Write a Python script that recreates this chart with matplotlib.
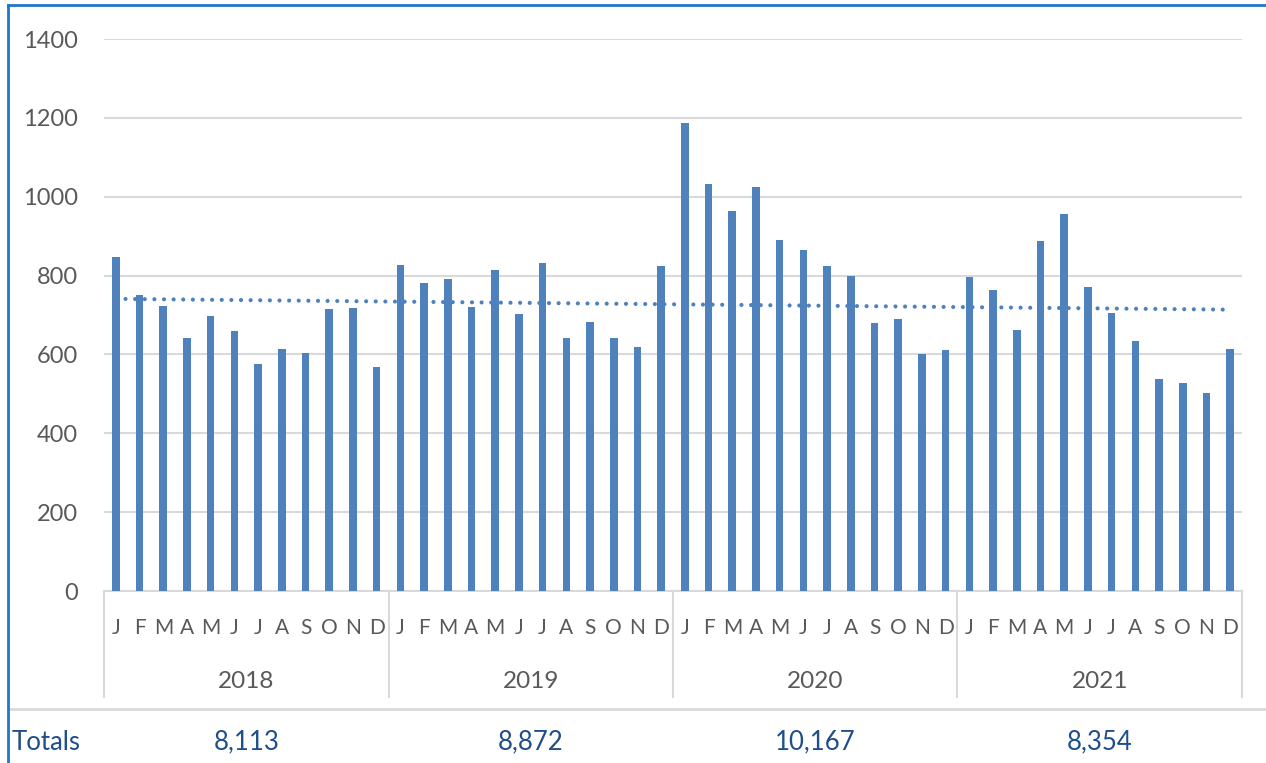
import numpy as np
import matplotlib
matplotlib.use('Agg')
import matplotlib.pyplot as plt
import matplotlib.transforms as mtransforms
from matplotlib.lines import Line2D

# monthly values
years = ["2018", "2019", "2020", "2021"]
month_letters = ["J", "F", "M", "A", "M", "J", "J", "A", "S", "O", "N", "D"]
vals_2018 = [847, 751, 722, 642, 697, 659, 575, 614, 604, 714, 719, 569]
vals_2019 = [827, 780, 791, 720, 814, 703, 831, 641, 682, 641, 619, 824]
vals_2020 = [1187, 1032, 965, 1025, 889, 864, 824, 798, 680, 690, 602, 611]
vals_2021 = [797, 763, 661, 888, 955, 772, 705, 633, 537, 528, 502, 613]
totals = ["8,113", "8,872", "10,167", "8,354"]

bar_col = "#4F81BD"
grid_col = "#D9D9D9"
txt_col = "#595959"
tot_col = "#1F4E8C"

plt.rcParams['font.family'] = ['Lato', 'DejaVu Sans']

values = np.array(vals_2018 + vals_2019 + vals_2020 + vals_2021, dtype=float)
x = np.arange(len(values))

W, H = 1266, 763
fig = plt.figure(figsize=(W / 100, H / 100), dpi=100)
ax = fig.add_axes([104 / W, (H - 591) / H, (1242 - 104) / W, (591 - 39) / H])

ax.bar(x, values, width=0.32, color=bar_col, zorder=3)

# exponential trend line (excel style: fit on log of values)
coef = np.polyfit(x, np.log(values), 1)
ax.plot(x, np.exp(np.polyval(coef, x)), color=bar_col, lw=3.0, ls=(0, (0.01, 2.3)),
        dash_capstyle='round', zorder=4)

ax.set_xlim(-0.5, len(values) - 0.5)
ax.set_ylim(0, 1400)
ax.set_yticks(range(0, 1401, 200))
ax.tick_params(axis='y', length=0, pad=19, labelsize=17, labelcolor=txt_col)
ax.set_xticks([])
ax.grid(axis='y', color=grid_col, lw=1.5, zorder=0)
for s in ["top", "right", "left"]:
    ax.spines[s].set_visible(False)
ax.spines["bottom"].set_color(grid_col)
ax.spines["bottom"].set_linewidth(1.5)

trans = mtransforms.blended_transform_factory(ax.transData, fig.transFigure)

def fy(py):
    return (H - py) / H

# month letters
for i in x:
    ax.text(i, fy(628), month_letters[i % 12], transform=trans, ha='center', va='center',
            fontsize=15, color=txt_col)

# year labels, separators and totals
for k, yr in enumerate(years):
    xc = k * 12 + 5.5
    ax.text(xc, fy(681), yr, transform=trans, ha='center', va='center', fontsize=17.5, color=txt_col)
    ax.text(xc, fy(742), totals[k], transform=trans, ha='center', va='center', fontsize=18.5, color=tot_col)
for k in range(len(years) + 1):
    xb = k * 12 - 0.5
    ax.add_line(Line2D([xb, xb], [fy(591), fy(697)], transform=trans, color=grid_col, lw=1.5, clip_on=False))

fig.text(12 / W, fy(742), "Totals", ha='left', va='center', fontsize=18.5, color=tot_col)

# separator under the chart and blue frame
fig.add_artist(Line2D([8 / W, 1], [fy(709), fy(709)], color=grid_col, lw=2))
fig.add_artist(Line2D([8 / W, 8 / W], [0, fy(5)], color="#1F77C8", lw=2))
fig.add_artist(Line2D([8 / W, 1], [fy(5), fy(5)], color="#1F77C8", lw=2))

fig.savefig("out.png", dpi=100)
